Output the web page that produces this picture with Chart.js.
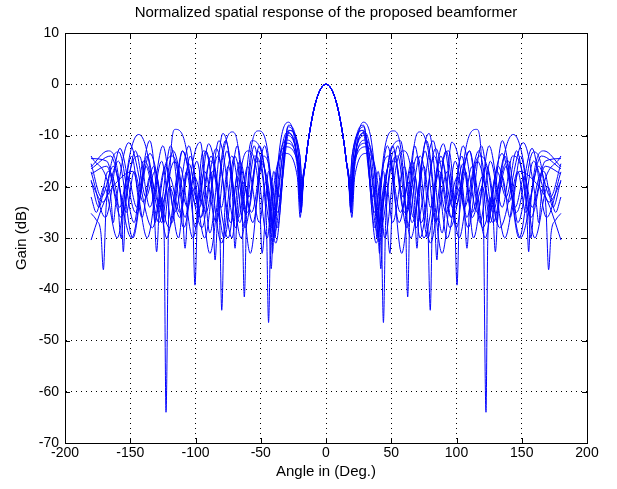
<!DOCTYPE html>
<html>
<head>
<meta charset="utf-8">
<script src="https://cdn.jsdelivr.net/npm/chart.js@4/dist/chart.umd.min.js"></script>
<style>
  html, body { margin: 0; padding: 0; background: #fff; }
  canvas { display: block; }
</style>
</head>
<body>
<canvas id="myChart" width="617" height="489"></canvas>
<script>
// Angle (deg) / gain (dB) pairs, right half only (pattern is symmetric)
const mainLobe = [[0,0],[3,-0.5],[6,-2.0],[9,-4.6],[12,-8.5],[14,-11.8],[16,-15.8]];

const c1 = [[17.5,-19],[19.5,-24],[21.5,-16],[28.6,-7.4],[37,-16],[40,-30],[42.5,-18],[51.6,-9.1],[60.5,-22],[62.6,-41.5],[64.5,-22],[72,-9.3],[82.5,-22],[85,-34.3],[87,-22],[94,-13],[98.5,-25],[100.4,-39.2],[102.5,-23],[115.5,-8.8],[120.5,-24],[122.6,-64],[124,-30],[127,-22],[131,-27],[134,-18],[143.5,-9.8],[154,-20],[157,-30],[160,-22],[167,-17],[174,-24],[180,-18.7]];
const c2 = [[17,-17.5],[18.5,-22],[20.5,-15],[29,-8.3],[37,-25],[44,-17],[49,-33],[51,-22],[60,-13],[67.5,-22],[69.7,-32],[72,-20],[79,-9.6],[89,-29],[96.3,-11.3],[105.5,-22],[108,-32],[110.5,-22],[118,-14],[127.5,-23],[129.8,-32.7],[132,-23],[140,-15],[147,-27],[158.8,-13.2],[168.5,-24],[170.6,-36.2],[172.5,-29],[176,-26.5],[180,-25.2]];
const c3 = [[17.5,-18.5],[19,-25],[21,-17],[29.5,-9.3],[37,-20],[39,-30],[41,-21],[48,-14],[56,-27],[66,-15],[75,-30],[89.9,-11.6],[100,-28],[107,-17],[113,-30],[123,-16],[133,-28],[151.2,-11.4],[161,-23],[163,-27],[165,-22],[180,-14]];
const c4 = [[17.8,-18],[20,-23],[22,-16],[30,-10.9],[39,-22],[41,-33],[43,-22],[53,-15],[62,-28],[72,-14],[78,-27],[79.9,-44.1],[81.5,-27],[89,-15],[96,-26],[105,-12],[116,-25],[125,-12],[135,-24],[143,-14],[153.5,-23],[155.3,-32.7],[157,-23],[167,-13],[180,-16.1]];
const c5 = [[17,-17],[18.8,-21],[21,-16],[31,-12.2],[40,-24],[42,-36],[44,-23],[57,-11],[66,-27],[76,-13],[84,-27],[93,-17],[99,-24],[110,-13],[120,-28],[134.9,-13.5],[146,-25],[157.9,-12.5],[169,-26],[180,-17.1]];
const c6 = [[17.7,-19],[19.8,-26],[22,-18],[31,-13.5],[42.2,-26],[44,-46.5],[45.8,-26],[55,-14],[62,-25],[68,-18],[73,-27],[83,-14],[92,-25],[101,-18],[106,-24],[117,-13],[128,-27],[138,-16],[145,-24],[152,-18],[158,-24],[168,-15],[180,-14.5]];
const c7 = [[16.8,-16.5],[18,-20],[20,-14],[29,-9],[37.5,-28],[47,-12],[57,-25],[64,-19],[69,-28],[82,-11],[93,-30],[104,-14],[112,-26],[120,-20],[124,-27],[132,-16],[140,-23],[147,-17],[153,-25],[163,-16],[172,-22],[180,-15.5]];
const c8 = [[17.4,-18],[19.2,-23],[21,-16],[30,-10],[40.5,-27],[49,-15],[58,-33],[68,-12],[78,-30],[88,-14],[97,-24],[103,-20],[108,-26],[116,-15],[127,-24],[135,-18],[141,-26],[149,-14],[160,-30],[170,-20],[176,-25],[180,-22]];
const c9 = [[17.2,-18],[18.7,-24],[20.7,-15],[28.8,-8],[38.5,-31],[46,-19],[51,-27],[60,-16],[67,-26],[75,-16],[80,-24],[87,-17],[95,-28],[110,-13],[118,-27],[126,-15],[137,-30],[148,-17],[160,-19],[170,-23],[177,-28],[180,-30.4]];
const c10 = [[17.6,-18.5],[19.4,-25],[21.4,-16],[29.2,-9.6],[39.5,-29],[51,-12],[60,-25],[70,-14],[80,-31],[92,-13],[102,-30],[112,-16],[122,-30],[131,-17],[138,-22],[146,-13],[157,-26],[168,-16],[180,-17.5]];
const c11 = [[16.9,-17],[18.2,-21],[20,-14],[28,-9],[36,-22],[40,-17],[45,-30],[55,-12],[65,-30],[77,-11],[89,-33],[99,-15],[109,-28],[119,-12],[128,-25],[137,-14],[148,-30],[159,-15],[171,-23],[180,-19]];
const c12 = [[17.3,-18],[19,-23],[21,-15.5],[30.5,-11.5],[42,-28],[52,-13],[59,-22],[66,-16],[72,-30],[84,-12.5],[96,-26],[105,-15.5],[112,-25],[120,-18],[126,-27],[135,-11],[149,-30],[165,-14],[180,-16.5]];

const curves = [c1, c2, c3, c4, c5, c6, c7, c8, c9, c10, c11, c12];

const xTicks = [-200, -150, -100, -50, 0, 50, 100, 150, 200];
const yTicks = [10, 0, -10, -20, -30, -40, -50, -60, -70];

// mirror each half pattern onto negative angles
function fullCurve(half) {
  const pts = mainLobe.concat(half);
  const left = pts.slice(1).reverse().map(p => ({x: -p[0], y: p[1]}));
  const right = pts.map(p => ({x: p[0], y: p[1]}));
  return left.concat(right);
}

const datasets = curves.map(c => ({
  data: fullCurve(c),
  borderColor: '#0000ff',
  borderWidth: 1,
  pointRadius: 0,
  fill: false,
  cubicInterpolationMode: 'monotone'
}));

// Matlab style box with inward ticks
const boxPlugin = {
  id: 'box',
  afterDraw(chart) {
    const {ctx, chartArea: a, scales} = chart;
    ctx.save();
    ctx.strokeStyle = '#000';
    ctx.lineWidth = 1;
    ctx.beginPath();
    xTicks.forEach(v => {
      const px = Math.round(scales.x.getPixelForValue(v)) + 0.5;
      ctx.moveTo(px, a.bottom); ctx.lineTo(px, a.bottom - 5);
      ctx.moveTo(px, a.top); ctx.lineTo(px, a.top + 5);
    });
    yTicks.forEach(v => {
      const py = Math.round(scales.y.getPixelForValue(v)) + 0.5;
      ctx.moveTo(a.left, py); ctx.lineTo(a.left + 5, py);
      ctx.moveTo(a.right, py); ctx.lineTo(a.right - 5, py);
    });
    ctx.stroke();
    ctx.strokeRect(Math.round(a.left) + 0.5, Math.round(a.top) + 0.5,
                   Math.round(a.right - a.left), Math.round(a.bottom - a.top));
    ctx.restore();
  }
};

const font = "'Liberation Sans', Arial, sans-serif";

new Chart(document.getElementById('myChart'), {
  type: 'line',
  data: { datasets: datasets },
  plugins: [boxPlugin],
  options: {
    responsive: false,
    animation: false,
    devicePixelRatio: 1,
    layout: { padding: { left: 0, right: 30, top: 0, bottom: 0 } },
    plugins: {
      legend: { display: false },
      tooltip: { enabled: false },
      title: {
        display: true,
        fullSize: false,
        text: 'Normalized spatial response of the proposed beamformer',
        color: '#000',
        font: { family: font, size: 15, weight: 'normal' },
        padding: { top: 4, bottom: 11 }
      }
    },
    scales: {
      x: {
        type: 'linear',
        min: -200, max: 200,
        afterBuildTicks: s => { s.ticks = xTicks.map(v => ({value: v})); },
        afterFit: s => { s.height = 46; },
        ticks: { color: '#000', font: { family: font, size: 14 }, padding: 2, maxRotation: 0 },
        grid: { color: '#000', lineWidth: 1, drawTicks: false },
        border: { display: true, color: '#000', dash: [1, 4] },
        title: {
          display: true,
          text: 'Angle in (Deg.)',
          color: '#000',
          font: { family: font, size: 15 },
          padding: { top: 0, bottom: 8 }
        }
      },
      y: {
        type: 'linear',
        min: -70, max: 10,
        afterBuildTicks: s => { s.ticks = yTicks.slice().reverse().map(v => ({value: v})); },
        afterFit: s => { s.width = 65; },
        ticks: { color: '#000', font: { family: font, size: 14 }, padding: 6 },
        grid: { color: '#000', lineWidth: 1, drawTicks: false },
        border: { display: true, color: '#000', dash: [1, 4] },
        title: {
          display: true,
          text: 'Gain (dB)',
          color: '#000',
          font: { family: font, size: 15 },
          padding: { top: 13, bottom: 0 }
        }
      }
    }
  }
});
</script>
</body>
</html>
